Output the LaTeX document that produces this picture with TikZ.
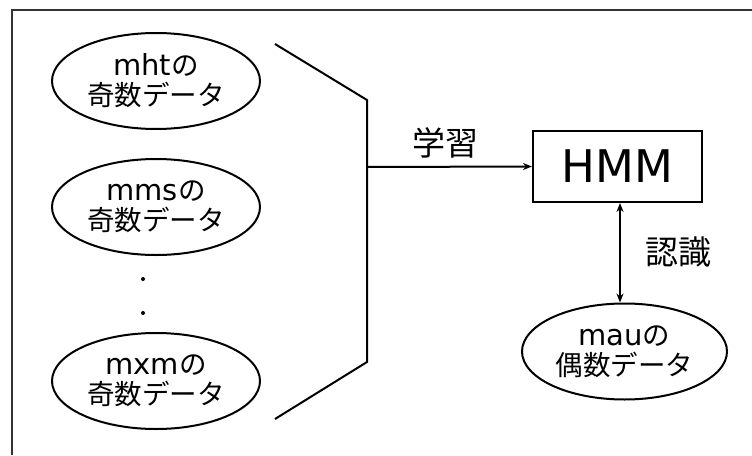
\documentclass[tikz,border=0pt]{standalone}
\usepackage{fontspec}
\setmainfont{DejaVu Sans}
\newfontfamily\jp{Noto Sans CJK JP}
\usetikzlibrary{shapes.geometric,arrows.meta}
\newcommand{\jl}[1]{{\jp\fontsize{27.5}{30}\selectfont #1}}
\begin{document}
\begin{tikzpicture}[x=1pt,y=-1pt,
  dataell/.style={draw,line width=2pt,ellipse,minimum width=208pt,minimum height=96pt,inner sep=0pt,font=\fontsize{29}{30}\selectfont,align=center},
  conn/.style={line width=2pt},
  lbl/.style={font=\jp\fontsize{33}{36}\selectfont,inner sep=0pt}]
\useasboundingbox (0,0) rectangle (752,455);
\draw[line width=1.8pt,color=black!80] (12,455) -- (12,10) -- (752,10);
\node[dataell] (e1) at (156,81) {mht\jl{の}\\\jl{奇数データ}};
\node[dataell] (e2) at (156,207) {mms\jl{の}\\\jl{奇数データ}};
\node[dataell] (e3) at (156,381) {mxm\jl{の}\\\jl{奇数データ}};
\fill (143,279) circle (2pt);
\fill (143,313) circle (2pt);
\coordinate (b1) at (275,44);
\coordinate (b2) at (367,100);
\coordinate (bm) at (367,167);
\coordinate (b3) at (367,362);
\coordinate (b4) at (275,419);
\draw[conn] (b1) -- (b2) -- (b3) -- (b4);
\node[draw,line width=2pt,minimum width=169pt,minimum height=71pt,inner sep=0pt,font=\fontsize{45}{45}\selectfont] (hmm) at (617.5,166.5) {HMM};
\draw[conn,-{Stealth[length=9pt,width=7pt]}] (bm) -- (hmm.west);
\node[lbl] at (445,143) {学習};
\node[dataell,minimum width=205pt] (e4) at (624.5,351.5) {mau\jl{の}\\\jl{偶数データ}};
\draw[conn,{Stealth[length=9pt,width=7pt]}-{Stealth[length=9pt,width=7pt]}] (hmm.south -| 620,0) -- (e4.north -| 620,0);
\node[lbl] at (678,252) {認識};
\end{tikzpicture}
\end{document}
